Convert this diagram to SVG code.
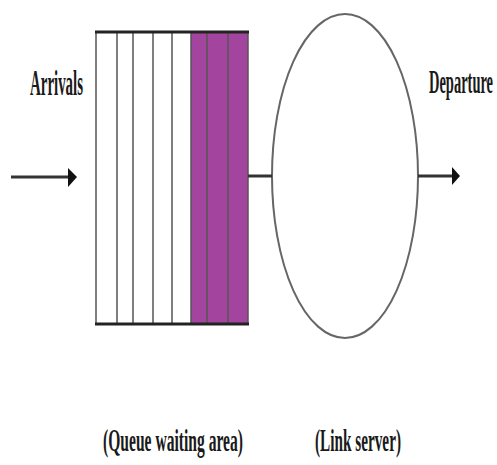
<svg xmlns="http://www.w3.org/2000/svg" width="497" height="465" viewBox="0 0 497 465">
  <style>
    .label { font-family: "Liberation Serif", "Times New Roman", serif; font-weight: bold; fill: #1a1a1a; font-size: 18px; }
    .slot { stroke: #555; stroke-width: 1.5; fill: none; }
    .edge { stroke: #222; stroke-width: 3; fill: none; }
    .flow { stroke: #333; stroke-width: 3; fill: none; }
    .head { fill: #111; }
  </style>

  <rect width="497" height="465" fill="#fff"/>

  <!-- waiting queue: white slots followed by occupied (purple) slots -->
  <g id="queue">
    <rect x="191" y="32" width="57" height="292" fill="#a3449f"/>
    <line class="slot" x1="96" y1="32" x2="96" y2="324"/>
    <line class="slot" x1="117" y1="32" x2="117" y2="324"/>
    <line class="slot" x1="133" y1="32" x2="133" y2="324"/>
    <line class="slot" x1="153" y1="32" x2="153" y2="324"/>
    <line class="slot" x1="172" y1="32" x2="172" y2="324"/>
    <line class="slot" x1="191" y1="32" x2="191" y2="324" stroke="#5a1f58"/>
    <line class="slot" x1="207" y1="32" x2="207" y2="324" stroke="#5a1f58"/>
    <line class="slot" x1="228" y1="32" x2="228" y2="324" stroke="#5a1f58"/>
    <line class="slot" x1="248" y1="32" x2="248" y2="324" stroke="#3a1238" stroke-width="2"/>
    <line class="edge" x1="95" y1="32" x2="249" y2="32"/>
    <line class="edge" x1="95" y1="324" x2="249" y2="324"/>
  </g>

  <!-- link server -->
  <g id="server">
    <ellipse cx="345" cy="176" rx="73" ry="162" fill="#fff" stroke="#666" stroke-width="2"/>
  </g>

  <!-- connectors -->
  <g id="connectors">
    <line class="flow" x1="11" y1="177" x2="70" y2="177"/>
    <polygon class="head" points="68,168 77,177 68,187"/>
    <line class="flow" x1="248" y1="176" x2="272" y2="176"/>
    <line class="flow" x1="418" y1="176" x2="454" y2="176"/>
    <polygon class="head" points="452,167 460,176 452,185"/>
  </g>

  <!-- labels: tall, narrow lettering (vertical stretch, width fixed by textLength) -->
  <g id="labels">
    <text class="label" transform="translate(30,95) scale(1,2)" textLength="53" lengthAdjust="spacingAndGlyphs">Arrivals</text>
    <text class="label" transform="translate(429,93) scale(1,2.45)" style="font-size:14px" textLength="64" lengthAdjust="spacingAndGlyphs">Departure</text>
    <text class="label" transform="translate(103,451) scale(1,1.7)" textLength="140" lengthAdjust="spacingAndGlyphs">(Queue waiting area)</text>
    <text class="label" transform="translate(315,451) scale(1,1.7)" textLength="86" lengthAdjust="spacingAndGlyphs">(Link server)</text>
  </g>
</svg>
